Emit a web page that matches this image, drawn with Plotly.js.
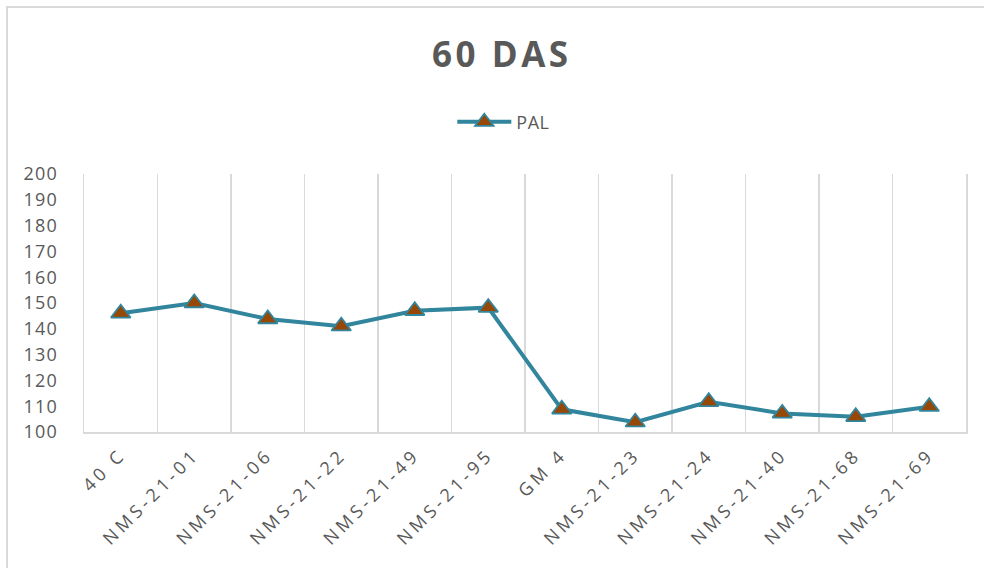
<!DOCTYPE html>
<html>
<head>
<meta charset="utf-8">
<script src="https://cdn.plot.ly/plotly-3.0.1.min.js"></script>
<style>
  html, body { margin: 0; padding: 0; background: #fff; overflow: hidden; }
  #wrap { position: relative; width: 984px; height: 568px; }
  #chart { width: 984px; height: 568px; }
  #frame { position: absolute; left: 6px; top: 6px; width: 2000px; height: 2000px;
           border-left: 2px solid #d9d9d9; border-top: 2px solid #d9d9d9; pointer-events: none; }
  .xtick text { letter-spacing: 3.9px; }
  .ytick text { letter-spacing: 1.2px; }
  .gtitle { letter-spacing: 3.5px; }
  .legendtext { letter-spacing: 0.5px; }
</style>
</head>
<body>
<div id="wrap">
  <div id="chart"></div>
  <div id="frame"></div>
</div>
<script>
const categories = ["40 C", "NMS-21-01", "NMS-21-06", "NMS-21-22", "NMS-21-49", "NMS-21-95",
                    "GM 4", "NMS-21-23", "NMS-21-24", "NMS-21-40", "NMS-21-68", "NMS-21-69"];
const palValues = [146, 150, 143.8, 141, 147, 148.2, 108.8, 103.8, 111.7, 107.2, 105.9, 109.8];
const seriesName = "PAL";
const chartTitle = "60 DAS";

const textColor = "#595959";
const lineColor = "#31859c";
const markerFill = "#974706";

const trace = {
  type: "scatter",
  mode: "lines+markers",
  name: seriesName,
  x: categories,
  y: palValues,
  line: { color: lineColor, width: 4 },
  marker: { symbol: "triangle-up", size: 17, color: markerFill,
            line: { color: lineColor, width: 1.8 } },
  cliponaxis: false
};

const layout = {
  width: 984, height: 568,
  margin: { l: 84, r: 18, t: 174, b: 136 },
  paper_bgcolor: "#ffffff",
  plot_bgcolor: "#ffffff",
  font: { family: "Open Sans, sans-serif", color: textColor },
  title: {
    text: chartTitle,
    font: { family: "Open Sans, sans-serif", size: 35, weight: 700, color: textColor },
    x: 0.51, xref: "container", xanchor: "center",
    y: 0.903, yref: "container", yanchor: "middle"
  },
  showlegend: true,
  legend: {
    orientation: "h",
    x: 0.512, xref: "container", xanchor: "center",
    y: 0.785, yref: "container", yanchor: "middle",
    font: { size: 18, color: textColor },
    itemwidth: 54,
    bgcolor: "rgba(0,0,0,0)"
  },
  xaxis: {
    type: "category",
    range: [-0.5, categories.length - 0.5],
    tickson: "boundaries",
    showgrid: true,
    gridcolor: "#d9d9d9",
    gridwidth: 1.5,
    showline: true,
    linecolor: "#d9d9d9",
    linewidth: 2,
    ticks: "",
    tickangle: -45,
    tickfont: { size: 18, color: textColor },
    ticklabelstandoff: 3,
    zeroline: false,
    fixedrange: true
  },
  yaxis: {
    range: [100, 200],
    dtick: 10,
    tick0: 100,
    showgrid: false,
    showline: true,
    mirror: true,
    linecolor: "#d9d9d9",
    linewidth: 1.5,
    ticks: "",
    tickfont: { size: 18, color: textColor },
    ticklabelstandoff: 21,
    zeroline: false,
    fixedrange: true
  }
};

Plotly.newPlot("chart", [trace], layout, { displayModeBar: false, staticPlot: true });
</script>
</body>
</html>
